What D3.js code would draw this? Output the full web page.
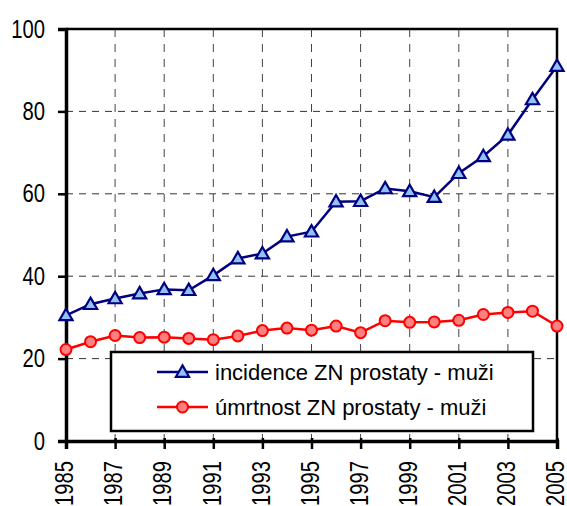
<!DOCTYPE html>
<html>
<head>
<meta charset="utf-8">
<script src="https://cdn.jsdelivr.net/npm/d3@7"></script>
<style>
  html, body { margin: 0; padding: 0; background: #fff; }
  svg { display: block; }
</style>
</head>
<body>
<svg id="chart" width="567" height="506"></svg>
<script>
// Data
const years = d3.range(1985, 2006);
const incidence = [30.5, 33.2, 34.6, 35.8, 36.8, 36.6, 40.2, 44.3, 45.5, 49.6, 50.8,
                   58.1, 58.2, 61.3, 60.6, 59.2, 65.0, 69.1, 74.3, 82.9, 91.0];
const mortality = [22.2, 24.1, 25.6, 25.1, 25.2, 24.9, 24.6, 25.5, 26.8, 27.4, 26.9,
                   27.9, 26.3, 29.2, 28.8, 28.9, 29.3, 30.7, 31.2, 31.5, 27.9];
const yTicks = [0, 20, 40, 60, 80, 100];
const xTicks = d3.range(1985, 2006, 2);
const legendLabels = ["incidence ZN prostaty - muži", "úmrtnost ZN prostaty - muži"];

// Plot frame
const plotL = 66, plotR = 557, plotT = 29, plotB = 441;
const svg = d3.select("#chart");
const x = d3.scaleLinear().domain([1985, 2005]).range([plotL, plotR]);
const y = d3.scaleLinear().domain([0, 100]).range([plotB, plotT]);

const textFont = "'Liberation Sans', Arial, sans-serif";

// Grid (dashed)
const grid = svg.append("g");
grid.selectAll("line.h")
    .data(yTicks.filter(d => d > 0 && d < 100))
    .enter().append("line")
    .attr("x1", plotL).attr("x2", plotR)
    .attr("y1", d => y(d)).attr("y2", d => y(d))
    .attr("stroke", "#333").attr("stroke-width", 1)
    .attr("stroke-dasharray", "7,6");
grid.selectAll("line.v")
    .data(xTicks.filter(d => d > 1985 && d < 2005))
    .enter().append("line")
    .attr("x1", d => x(d)).attr("x2", d => x(d))
    .attr("y1", plotT).attr("y2", plotB)
    .attr("stroke", "#444").attr("stroke-width", 1)
    .attr("stroke-dasharray", "8,7");

// Top & right border
svg.append("path")
    .attr("d", `M${plotL},${plotT}H${plotR}V${plotB}`)
    .attr("fill", "none").attr("stroke", "#000").attr("stroke-width", 2.5);

// Axes
const yAxis = svg.append("g")
    .attr("transform", `translate(${plotL},0)`)
    .call(d3.axisLeft(y).tickValues(yTicks).tickSize(8).tickPadding(13));
const xAxis = svg.append("g")
    .attr("transform", `translate(0,${plotB})`)
    .call(d3.axisBottom(x).tickValues(xTicks).tickSize(8).tickFormat(d3.format("d")));

[yAxis, xAxis].forEach(a => {
    a.select(".domain").attr("stroke", "#000").attr("stroke-width", 3.5);
    a.selectAll(".tick line").attr("stroke", "#000").attr("stroke-width", 2.5);
    a.selectAll("text").attr("fill", "#000")
        .style("font-family", textFont).style("font-size", "25px");
});
xAxis.selectAll(".tick line").attr("y1", -3);
xAxis.selectAll("text")
    .attr("text-anchor", "end")
    .attr("transform", "rotate(-90)")
    .attr("x", -20).attr("y", -2).attr("dy", "0.35em");

// tick labels in the reference are condensed (narrow face)
svg.selectAll(".tick text").each(function () {
    const w = this.getComputedTextLength();
    d3.select(this).attr("textLength", w * 0.81).attr("lengthAdjust", "spacingAndGlyphs");
});

// Series
const series = [
    { values: incidence, stroke: "#000080", fill: "#8fc3f5", marker: "triangle" },
    { values: mortality, stroke: "#ff0000", fill: "#ff8080", marker: "circle" }
];
const line = d3.line().x((d, i) => x(years[i])).y(d => y(d));
const tri = d3.symbol().type(d3.symbolTriangle).size(75);

function drawMarker(sel, s) {
    if (s.marker === "triangle") {
        sel.append("path").attr("d", tri)
            .attr("fill", s.fill).attr("stroke", s.stroke).attr("stroke-width", 2.2)
            .attr("stroke-linejoin", "miter");
    } else {
        sel.append("circle").attr("r", 5.5)
            .attr("fill", s.fill).attr("stroke", s.stroke).attr("stroke-width", 2);
    }
}

series.forEach(s => {
    svg.append("path").datum(s.values)
        .attr("d", line)
        .attr("fill", "none").attr("stroke", s.stroke).attr("stroke-width", 2.5);
    svg.append("g").selectAll("g")
        .data(s.values).enter().append("g")
        .attr("transform", (d, i) => `translate(${x(years[i])},${y(d) + (s.marker === "triangle" ? 1 : 0)})`)
        .each(function () { drawMarker(d3.select(this), s); });
});

// Legend
const legend = svg.append("g");
legend.append("rect")
    .attr("x", 111).attr("y", 352).attr("width", 422).attr("height", 79)
    .attr("fill", "#fff").attr("stroke", "#000").attr("stroke-width", 2.5);
const rows = legend.selectAll("g.row")
    .data(series).enter().append("g")
    .attr("transform", (d, i) => `translate(0,${372 + i * 35})`);
rows.append("line")
    .attr("x1", 157).attr("x2", 208)
    .attr("stroke", d => d.stroke).attr("stroke-width", 2.5);
rows.append("g").attr("transform", (d) => `translate(182.5,${d.marker === "triangle" ? 1 : 0})`)
    .each(function (d) { drawMarker(d3.select(this), d); });
rows.append("text")
    .attr("x", 215).attr("y", 8)
    .style("font-family", textFont).style("font-size", "22px")
    .attr("fill", "#000")
    .text((d, i) => legendLabels[i]);
</script>
</body>
</html>
